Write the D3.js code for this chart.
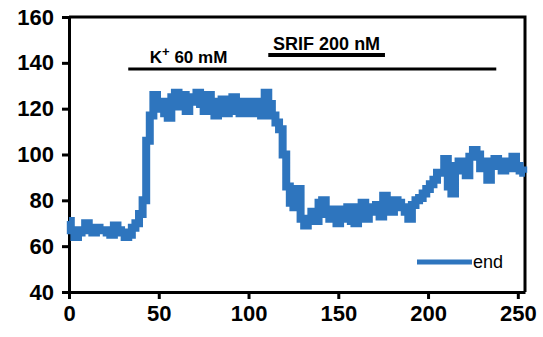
<!DOCTYPE html>
<html>
<head>
    <meta charset="UTF-8">
    <script src="https://cdn.jsdelivr.net/npm/d3@7/dist/d3.min.js"></script>
    <style>
        body { margin: 0; background: #fff; }
        text { font-family: "Liberation Sans", Arial, sans-serif; }
    </style>
</head>
<body>
<svg id="chart" width="543" height="337"></svg>
<script>

// time points (every 2 units) and trace values
let times = d3.range(0, 256, 2);
let values = [
    71, 67, 64, 66, 67, 70, 68, 66, 68, 67,
    67, 66, 65, 69, 67, 66, 64, 65, 68, 70,
    74, 80, 106, 117, 126, 120, 123, 118, 116, 125,
    127, 121, 126, 119, 123, 125, 127, 122, 119, 126,
    120, 117, 123, 124, 118, 122, 125, 119, 118, 123,
    121, 118, 123, 120, 117, 127, 122, 117, 114, 111,
    100, 86, 79, 77, 85, 72, 69, 72, 75, 71,
    79, 80, 74, 72, 76, 70, 76, 72, 77, 71,
    70, 77, 79, 72, 75, 77, 78, 73, 82, 77,
    75, 80, 79, 77, 75, 72, 78, 80, 81, 83,
    85, 87, 89, 92, 92, 98, 86, 83, 95, 97,
    93, 91, 99, 102, 100, 94, 97, 89, 95, 98,
    95, 93, 97, 94, 99, 95, 93, 92
];

let xTicks = [0, 50, 100, 150, 200, 250];
let yTicks = [40, 60, 80, 100, 120, 140, 160];

// treatment bars: [start, end, level]
let kBar = [33, 238, 137.3];
let srifBar = [111, 176, 143.4];
let legendLabel = "end";

let margin = { top: 17, right: 18, bottom: 45, left: 69 };
let width = 543, height = 337;
let blue = "#2e75be";

let svg = d3.select("#chart");

let x = d3.scaleLinear([0, 254], [margin.left, width - margin.right]);
let y = d3.scaleLinear([40, 160], [height - margin.bottom, margin.top]);

// frame (top and right)
svg.append("path")
    .attr("d", `M${margin.left},${y(160)}H${x(254)}V${y(40)}`)
    .attr("fill", "none")
    .attr("stroke", "#000")
    .attr("stroke-width", 3);

// x axis
let gx = svg.append("g")
    .attr("transform", `translate(0,${y(40)})`)
    .call(d3.axisBottom(x).tickValues(xTicks).tickSize(7).tickPadding(6).tickSizeOuter(0));
// y axis
let gy = svg.append("g")
    .attr("transform", `translate(${x(0)},0)`)
    .call(d3.axisLeft(y).tickValues(yTicks).tickSize(7).tickPadding(8).tickSizeOuter(0));

[gx, gy].forEach(g => {
    g.select(".domain").attr("stroke-width", 3);
    g.selectAll(".tick line").attr("stroke-width", 3);
    g.selectAll("text")
        .attr("fill", "#000")
        .style("font-size", "22px")
        .style("font-weight", "bold")
        .style("font-family", "'Liberation Sans', Arial, sans-serif");
});

// trace
let line = d3.line()
    .x((d, i) => x(times[i]))
    .y(d => y(d))
    .curve(d3.curveStep);

svg.append("path")
    .datum(values)
    .attr("d", line)
    .attr("fill", "none")
    .attr("stroke", blue)
    .attr("stroke-width", 8);

// K+ bar
svg.append("line")
    .attr("x1", x(kBar[0])).attr("x2", x(kBar[1]))
    .attr("y1", y(kBar[2])).attr("y2", y(kBar[2]))
    .attr("stroke", "#000").attr("stroke-width", 3);

let kText = svg.append("text")
    .attr("x", x(45))
    .attr("y", y(kBar[2]) - 6)
    .style("font-size", "17px")
    .style("font-weight", "bold");
kText.append("tspan").text("K");
kText.append("tspan").text("+").attr("dy", -7).style("font-size", "13px");
kText.append("tspan").text(" 60 mM").attr("dy", 7);

// SRIF bar
svg.append("line")
    .attr("x1", x(srifBar[0])).attr("x2", x(srifBar[1]))
    .attr("y1", y(srifBar[2])).attr("y2", y(srifBar[2]))
    .attr("stroke", "#000").attr("stroke-width", 4);

svg.append("text")
    .attr("x", (x(srifBar[0]) + x(srifBar[1])) / 2)
    .attr("y", y(srifBar[2]) - 5)
    .attr("text-anchor", "middle")
    .style("font-size", "18px")
    .style("font-weight", "bold")
    .text("SRIF 200 nM");

// legend
svg.append("line")
    .attr("x1", 417).attr("x2", 472)
    .attr("y1", 262).attr("y2", 262)
    .attr("stroke", blue).attr("stroke-width", 5);
svg.append("text")
    .attr("x", 473).attr("y", 268)
    .style("font-size", "18px")
    .text(legendLabel);

</script>
</body>
</html>
